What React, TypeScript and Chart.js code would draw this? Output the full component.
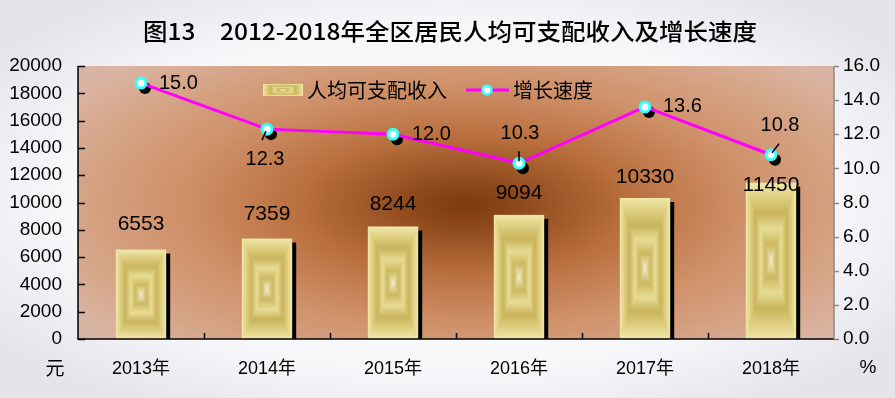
import { useEffect, useRef } from "react";
import { Chart, registerables } from "chart.js";
Chart.register(...registerables);

const titleText = "图13　2012-2018年全区居民人均可支配收入及增长速度";
const categories = ["2013年", "2014年", "2015年", "2016年", "2017年", "2018年"];
const incomeValues = [6553, 7359, 8244, 9094, 10330, 11450];
const growthValues = [15.0, 12.3, 12.0, 10.3, 13.6, 10.8];
const incomeLabel = "人均可支配收入";
const growthLabel = "增长速度";
const leftUnit = "元";
const rightUnit = "%";
const leftMax = 20000;
const leftStep = 2000;
const rightMax = 16;
const rightStep = 2;

// label placement style (offsets from the point, in px)
const growthLabelStyle = [
  { dx: 18, dy: 0, align: "left", leader: null },
  { dx: -2, dy: 30, align: "center", leader: [-1, 2, -5, 11] },
  { dx: 19, dy: 0, align: "left", leader: null },
  { dx: 1, dy: -30, align: "center", leader: [0, -2, 0, -12] },
  { dx: 18, dy: 0, align: "left", leader: null },
  { dx: 9, dy: -29, align: "center", leader: [1, -2, 8, -11] },
];
const barLabelDy = [-25, -24, -22, -22, -21, 2];

const NUM_FONT = '"Liberation Sans", Arial, "Noto Sans CJK SC", sans-serif';
const CJK_FONT = '"Noto Sans CJK SC", "Liberation Sans", sans-serif';

function goldColor(t: number): string {
  const stops: [number, number[]][] = [
    [0, [240, 230, 168]],
    [0.18, [222, 206, 128]],
    [0.38, [201, 180, 92]],
    [0.58, [232, 220, 148]],
    [0.78, [204, 184, 96]],
    [1, [246, 240, 204]],
  ];
  for (let i = 0; i < stops.length - 1; i++) {
    const [t0, c0] = stops[i];
    const [t1, c1] = stops[i + 1];
    if (t >= t0 && t <= t1) {
      const f = (t - t0) / (t1 - t0);
      const c = c0.map((v, k) => Math.round(v + (c1[k] - v) * f));
      return `rgb(${c[0]},${c[1]},${c[2]})`;
    }
  }
  return "rgb(246,240,204)";
}

function drawGold(ctx: CanvasRenderingContext2D, x: number, y: number, w: number, h: number) {
  const N = 40;
  for (let i = 0; i <= N; i++) {
    const t = i / N;
    const ix = (t * w) / 2;
    const iy = (t * h) / 2;
    ctx.fillStyle = goldColor(t);
    ctx.fillRect(x + ix, y + iy, Math.max(w - 2 * ix, 0.5), Math.max(h - 2 * iy, 0.5));
  }
}

const decorPlugin = {
  id: "decor",
  beforeDraw(chart: any) {
    const ctx: CanvasRenderingContext2D = chart.ctx;
    const W = chart.width;
    const H = chart.height;
    const ca = chart.chartArea;
    ctx.save();
    // page background with soft vignette
    ctx.save();
    ctx.translate(W / 2, H / 2);
    ctx.scale(1, H / W);
    const pg = ctx.createRadialGradient(0, 0, 0, 0, 0, W * 0.62);
    pg.addColorStop(0, "#ffffff");
    pg.addColorStop(0.7, "#f7f6f9");
    pg.addColorStop(1, "#e6e4ea");
    ctx.fillStyle = pg;
    ctx.fillRect(-W, -W, 2 * W, 2 * W);
    ctx.restore();

    // title
    ctx.fillStyle = "#000";
    ctx.font = `500 23px ${CJK_FONT}`;
    ctx.textAlign = "center";
    ctx.textBaseline = "middle";
    const tw = ctx.measureText(titleText).width;
    const targetW = 614;
    ctx.save();
    ctx.translate(450, 31);
    ctx.scale(targetW / tw, 1);
    ctx.fillText(titleText, 0, 0);
    ctx.restore();

    // plot area gradient
    ctx.save();
    ctx.beginPath();
    ctx.rect(ca.left, ca.top, ca.right - ca.left, ca.bottom - ca.top);
    ctx.clip();
    const cx = 465;
    const cy = 205;
    ctx.translate(cx, cy);
    ctx.scale(1, 0.42);
    const g = ctx.createRadialGradient(0, 0, 0, 0, 0, 470);
    g.addColorStop(0, "#7c3a0e");
    g.addColorStop(0.12, "#8f4a1c");
    g.addColorStop(0.35, "#b96f3e");
    g.addColorStop(0.6, "#cf9068");
    g.addColorStop(0.85, "#d6a68a");
    g.addColorStop(1, "#dab4a2");
    ctx.fillStyle = g;
    ctx.fillRect(-800, -1200, 1600, 2400);
    ctx.restore();

    // units
    ctx.fillStyle = "#000";
    ctx.font = `19px ${CJK_FONT}`;
    ctx.textAlign = "center";
    ctx.textBaseline = "middle";
    ctx.fillText(leftUnit, 55, 368);
    ctx.font = `19px ${NUM_FONT}`;
    ctx.fillText(rightUnit, 868, 368);

    // legend
    const ly = 90;
    drawGold(ctx, 263, 84, 40, 12);
    ctx.font = `20px ${CJK_FONT}`;
    ctx.textAlign = "left";
    ctx.fillStyle = "#000";
    ctx.fillText(incomeLabel, 307, ly);
    ctx.strokeStyle = "#ff00ff";
    ctx.lineWidth = 3;
    ctx.beginPath();
    ctx.moveTo(466, ly);
    ctx.lineTo(509, ly);
    ctx.stroke();
    ctx.beginPath();
    ctx.arc(487, ly, 4.5, 0, Math.PI * 2);
    ctx.fillStyle = "#ffffff";
    ctx.fill();
    ctx.lineWidth = 2.5;
    ctx.strokeStyle = "#33ffff";
    ctx.stroke();
    ctx.fillStyle = "#000";
    ctx.fillText(growthLabel, 513, ly);
    ctx.restore();
  },
  beforeDatasetsDraw(chart: any) {
    const ctx: CanvasRenderingContext2D = chart.ctx;
    const barMeta = chart.getDatasetMeta(1);
    ctx.save();
    barMeta.data.forEach((el: any) => {
      const w = el.width;
      const x = el.x - w / 2;
      const y = el.y;
      const base = el.base;
      ctx.fillStyle = "#000";
      ctx.fillRect(x + 4, y + 4, w, base - y - 4);
      drawGold(ctx, x, y, w, base - y);
    });
    const lineMeta = chart.getDatasetMeta(0);
    lineMeta.data.forEach((el: any) => {
      ctx.beginPath();
      ctx.arc(el.x + 4, el.y + 5, 6, 0, Math.PI * 2);
      ctx.fillStyle = "#000";
      ctx.fill();
    });
    ctx.restore();
  },
  afterDatasetsDraw(chart: any) {
    const ctx: CanvasRenderingContext2D = chart.ctx;
    const ca = chart.chartArea;
    const yL = chart.scales.y;
    const yR = chart.scales.y1;
    ctx.save();
    // axes
    ctx.lineWidth = 1.5;
    ctx.strokeStyle = "#000";
    ctx.beginPath();
    ctx.moveTo(ca.left, ca.top);
    ctx.lineTo(ca.left, ca.bottom);
    ctx.lineTo(ca.right, ca.bottom);
    ctx.stroke();
    for (let v = 0; v <= leftMax; v += leftStep) {
      const py = Math.round(yL.getPixelForValue(v)) + 0.5;
      ctx.beginPath();
      ctx.moveTo(ca.left, py);
      ctx.lineTo(ca.left + 7, py);
      ctx.stroke();
    }
    const xs = chart.scales.x;
    for (let i = 1; i < categories.length; i++) {
      const px = Math.round((xs.getPixelForValue(i - 1) + xs.getPixelForValue(i)) / 2) + 0.5;
      ctx.beginPath();
      ctx.moveTo(px, ca.bottom);
      ctx.lineTo(px, ca.bottom - 6);
      ctx.stroke();
    }
    ctx.strokeStyle = "#8a8a8a";
    ctx.lineWidth = 1.5;
    ctx.beginPath();
    ctx.moveTo(ca.right, ca.top);
    ctx.lineTo(ca.right, ca.bottom);
    ctx.stroke();
    for (let v = 0; v <= rightMax; v += rightStep) {
      const py = Math.round(yR.getPixelForValue(v)) + 0.5;
      ctx.beginPath();
      ctx.moveTo(ca.right, py);
      ctx.lineTo(ca.right + 5, py);
      ctx.stroke();
    }

    // bar labels
    const barMeta = chart.getDatasetMeta(1);
    ctx.fillStyle = "#000";
    ctx.font = `21px ${NUM_FONT}`;
    ctx.textAlign = "center";
    ctx.textBaseline = "middle";
    barMeta.data.forEach((el: any, i: number) => {
      ctx.fillText(String(incomeValues[i]), el.x, el.y + barLabelDy[i]);
    });

    // line labels
    const lineMeta = chart.getDatasetMeta(0);
    ctx.font = `20px ${NUM_FONT}`;
    ctx.strokeStyle = "#000";
    ctx.lineWidth = 1.5;
    lineMeta.data.forEach((el: any, i: number) => {
      const s = growthLabelStyle[i];
      ctx.textAlign = s.align as CanvasTextAlign;
      ctx.fillText(growthValues[i].toFixed(1), el.x + s.dx, el.y + s.dy);
      if (s.leader) {
        ctx.beginPath();
        ctx.moveTo(el.x + s.leader[0], el.y + s.leader[1]);
        ctx.lineTo(el.x + s.leader[2], el.y + s.leader[3]);
        ctx.stroke();
      }
    });
    ctx.restore();
  },
};

export default function App() {
  const ref = useRef<HTMLCanvasElement | null>(null);
  useEffect(() => {
    document.body.style.margin = "0";
    const canvas = ref.current;
    if (!canvas) return;
    const chart = new Chart(canvas, {
      type: "bar",
      data: {
        labels: categories,
        datasets: [
          {
            type: "line",
            label: growthLabel,
            data: growthValues,
            yAxisID: "y1",
            borderColor: "#ff00ff",
            borderWidth: 3,
            pointRadius: 5,
            pointBackgroundColor: "#ffffff",
            pointBorderColor: "#33ffff",
            pointBorderWidth: 3,
            tension: 0,
            order: 0,
          } as any,
          {
            type: "bar",
            label: incomeLabel,
            data: incomeValues,
            yAxisID: "y",
            backgroundColor: "rgba(0,0,0,0)",
            borderWidth: 0,
            barPercentage: 0.4,
            categoryPercentage: 1,
            order: 1,
          },
        ],
      },
      options: {
        responsive: false,
        animation: false,
        layout: { padding: { top: 66, left: 0, right: 0, bottom: 0 } },
        plugins: {
          legend: { display: false },
          title: { display: false },
          tooltip: { enabled: false },
        },
        scales: {
          x: {
            offset: true,
            grid: { display: false, drawTicks: false },
            border: { display: false },
            ticks: { color: "#000", font: { size: 18, family: NUM_FONT }, padding: 19 },
            afterFit: (s: any) => {
              s.height = 59;
            },
          },
          y: {
            position: "left",
            min: 0,
            max: leftMax,
            grid: { display: false, drawTicks: false },
            border: { display: false },
            ticks: {
              stepSize: leftStep,
              color: "#000",
              font: { size: 19, family: NUM_FONT },
              padding: 16,
              callback: (v: any) => String(v),
            },
            afterFit: (s: any) => {
              s.width = 78;
            },
          },
          y1: {
            position: "right",
            min: 0,
            max: rightMax,
            grid: { display: false, drawTicks: false },
            border: { display: false },
            ticks: {
              stepSize: rightStep,
              color: "#000",
              font: { size: 19, family: NUM_FONT },
              padding: 9,
              callback: (v: any) => Number(v).toFixed(1),
            },
            afterFit: (s: any) => {
              s.width = 61;
            },
          },
        },
      },
      plugins: [decorPlugin],
    });
    return () => chart.destroy();
  }, []);
  return (
    <div style={{ position: "fixed", left: 0, top: 0, width: 895, height: 398 }}>
      <canvas ref={ref} width={895} height={398} style={{ width: 895, height: 398, display: "block" }} />
    </div>
  );
}
